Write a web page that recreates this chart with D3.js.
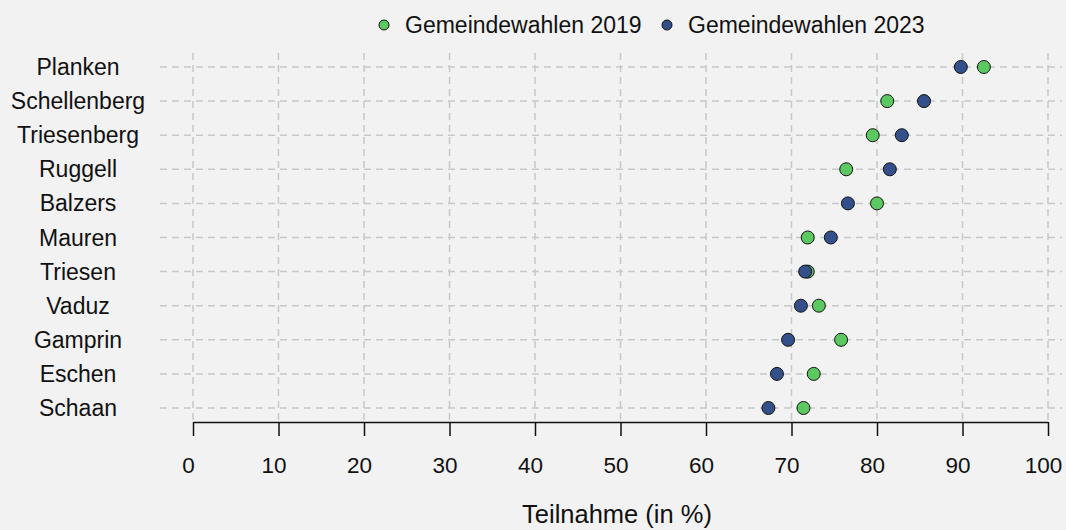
<!DOCTYPE html>
<html><head><meta charset="utf-8">
<script src="https://cdn.jsdelivr.net/npm/d3@7"></script>
<style>body{margin:0;background:#f2f2f2;} svg{display:block;} text{font-family:"Liberation Sans",Arial,sans-serif;fill:#111;}</style>
</head><body><svg id="c" width="1066" height="530"></svg>
<script>
const categories = ["Planken","Schellenberg","Triesenberg","Ruggell","Balzers","Mauren","Triesen","Vaduz","Gamprin","Eschen","Schaan"];
const values2019 = [92.5,81.2,79.5,76.4,80.0,71.9,71.9,73.2,75.8,72.6,71.4];
const values2023 = [89.8,85.5,82.9,81.5,76.6,74.6,71.6,71.1,69.6,68.3,67.3];
const xTicks = [0,10,20,30,40,50,60,70,80,90,100];
const seriesNames = ["Gemeindewahlen 2019","Gemeindewahlen 2023"];
const colors = ["#5bc860","#34508a"];

const svg = d3.select("#c");
svg.append("rect").attr("width",1066).attr("height",530).attr("fill","#f2f2f2");
const x = d3.scaleLinear().domain([0,100]).range([193,1048]);
const y = d3.scalePoint().domain(categories).range([67,408]);

const grid = svg.append("g").attr("stroke","#c8c8c8").attr("stroke-width",1.5).attr("stroke-dasharray","7,5");
grid.selectAll("line.v").data(xTicks).join("line").attr("class","v")
  .attr("x1",d=>x(d)).attr("x2",d=>x(d)).attr("y1",53).attr("y2",422);
grid.selectAll("line.h").data(categories).join("line").attr("class","h")
  .attr("x1",160).attr("x2",1062).attr("y1",d=>y(d)).attr("y2",d=>y(d));

// y labels
svg.append("g").selectAll("text").data(categories).join("text")
  .attr("x",78).attr("y",d=>y(d)).attr("dy","0.35em").attr("text-anchor","middle")
  .attr("font-size",23).text(d=>d);

// x axis
const ax = svg.append("g").attr("transform","translate(0,422)")
  .call(d3.axisBottom(x).tickValues(xTicks).tickSize(14).tickSizeOuter(0).tickPadding(21));
ax.select(".domain").attr("stroke","#111").attr("stroke-width",1.5);
ax.selectAll(".tick line").attr("stroke","#111").attr("stroke-width",1.5);
ax.selectAll(".tick text").attr("font-size",22.5).attr("fill","#111").attr("font-family","Liberation Sans, Arial, sans-serif").attr("dx",-5);

svg.append("text").attr("x",617).attr("y",523).attr("text-anchor","middle").attr("font-size",25.5).text("Teilnahme (in %)");

// dots
const series = [values2019, values2023];
series.forEach((vals,i)=>{
  svg.append("g").selectAll("circle").data(categories).join("circle")
    .attr("cx",(d,j)=>x(vals[j])).attr("cy",d=>y(d)).attr("r",6.5)
    .attr("fill",colors[i]).attr("stroke","#111").attr("stroke-width",1);
});

// legend
const leg = svg.append("g");
const legX = [384, 667];
seriesNames.forEach((n,i)=>{
  leg.append("circle").attr("cx",legX[i]).attr("cy",25).attr("r",5).attr("fill",colors[i]).attr("stroke","#111").attr("stroke-width",1);
  leg.append("text").attr("x",legX[i]+21).attr("y",25).attr("dy","0.35em").attr("font-size",23).text(n);
});
</script></body></html>
